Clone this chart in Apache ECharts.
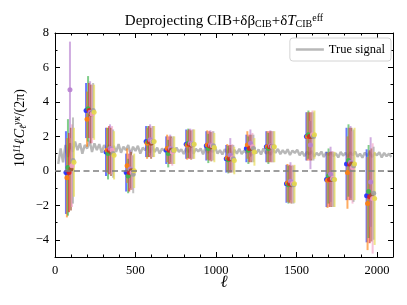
<!DOCTYPE html>
<html><head><meta charset="utf-8">
<script src="https://cdn.jsdelivr.net/npm/echarts@6/dist/echarts.min.js"></script>
<style>html,body{margin:0;padding:0;background:#fff}#c{width:407px;height:305px}</style>
</head><body><div id="c"></div>
<script>
// ---- data ----
const binCenters = [93, 218, 342, 467, 591, 716, 840, 965, 1089, 1214, 1338, 1463, 1587, 1712, 1836, 1961];
const seriesNames = ['s1','s2','s3','s4','s5','s6','s7','s8','s9'];
const seriesOffsets = [-25, -19, -12.5, -6, 0, 6, 12.5, 19, 25];
const seriesColors = ['#1f2bff', '#ff7f0e', '#3cb44b', '#e02020', '#b77fd0', '#a0522d', '#f2a0c8', '#a0a0a0', '#e6d84a'];

const vBlue   = [-0.1, 3.5, 1.1, -0.1, 1.7, 1.2, 1.55, 1.45, 0.7, 1.3, 1.4, -0.75, 2.0, -0.5, 0.4, -1.45];
const vOrange = [-0.4, 3.0, 1.2, 0.3, 1.6, 1.3, 1.5, 1.5, 0.75, 1.5, 1.4, -0.7, 2.0, -0.55, -0.1, -1.9];
const vGreen  = [0.2, 3.6, 1.0, -0.3, 1.7, 1.0, 1.6, 1.3, 0.65, 1.2, 1.3, -0.8, 2.1, -0.3, 0.6, -1.2];
const vRed    = [-0.1, 3.5, 1.2, -0.1, 1.7, 1.2, 1.55, 1.45, 0.7, 1.3, 1.4, -0.75, 2.0, -0.5, 0.4, -1.5];
const vPurple = [4.7, 3.4, 1.3, 0.1, 1.8, 1.3, 1.6, 1.5, 0.9, 1.6, 1.45, -0.6, 1.5, -0.2, 0.5, -0.65];
const vBrown  = [0.1, 3.3, 1.1, 0.0, 1.6, 1.2, 1.5, 1.4, 0.7, 1.3, 1.4, -0.8, 2.0, -0.5, 0.4, -1.4];
const vPink   = [0.3, 3.3, 1.2, -0.1, 1.7, 1.1, 1.55, 1.45, 0.75, 1.4, 1.4, -0.75, 2.1, -0.45, 0.2, -1.6];
const vGray   = [0.6, 3.5, 1.0, -0.2, 1.7, 1.2, 1.55, 1.45, 0.7, 1.3, 1.4, -0.8, 2.0, -0.5, 0.3, -1.3];
const vOlive  = [0.5, 3.4, 0.9, 0.0, 1.7, 1.2, 1.55, 1.35, 0.6, 1.1, 1.4, -0.75, 2.1, -0.5, 0.4, -1.6];

const eBlue   = [2.4, 1.6, 1.4, 1.1, 0.9, 0.8, 0.85, 0.85, 0.8, 0.8, 0.9, 1.1, 1.4, 1.6, 2.1, 2.7];
const eOrange = [2.3, 1.6, 1.3, 1.0, 0.9, 0.8, 0.85, 0.85, 0.8, 0.8, 0.9, 1.1, 1.4, 1.6, 2.1, 2.7];
const eGreen  = [2.8, 1.9, 1.5, 1.0, 0.9, 0.8, 0.85, 0.85, 0.8, 0.8, 0.9, 1.1, 1.4, 1.6, 2.1, 2.7];
const eRed    = [2.3, 1.6, 1.4, 1.1, 0.9, 0.8, 0.85, 0.85, 0.8, 0.8, 0.9, 1.1, 1.4, 1.6, 2.1, 2.7];
const ePurple = [2.8, 1.8, 1.4, 1.1, 0.9, 0.8, 0.85, 0.85, 1.0, 0.8, 0.9, 1.1, 1.4, 1.6, 2.1, 2.6];
const eBrown  = [2.4, 1.7, 1.4, 1.1, 0.9, 0.8, 0.85, 0.85, 0.8, 0.8, 0.9, 1.1, 1.4, 1.6, 2.1, 2.7];
const ePink   = [2.4, 1.7, 1.4, 1.0, 0.9, 0.8, 0.85, 0.85, 0.8, 0.8, 0.9, 1.1, 1.4, 1.6, 2.1, 3.2];
const eGray   = [2.5, 1.6, 1.4, 1.1, 0.9, 0.8, 0.85, 0.85, 0.8, 0.8, 0.9, 1.1, 1.4, 1.6, 2.1, 2.7];
const eOlive  = [2.0, 1.6, 1.4, 1.0, 0.9, 0.8, 0.85, 0.85, 0.8, 0.8, 0.9, 1.1, 1.4, 1.6, 2.1, 2.7];

const trueStart = 20, trueStep = 15;
const trueSignal = [
 0.4, 1.3, 0.5, 1.5, 0.8, 1.6,
 1.1, 1.7, 1.2, 1.6, 1.0, 1.5, 1.3, 1.75, 1.1, 1.6, 1.2, 1.55, 1.05, 1.5,
 1.25, 1.5, 1.0, 1.45, 1.1, 1.55, 1.05, 1.4, 1.2, 1.5, 0.95, 1.4, 1.15, 1.45, 1.0, 1.35, 1.2, 1.5, 1.05, 1.4,
 1.1, 1.35, 1.0, 1.3, 1.15, 1.4, 0.95, 1.3, 1.05, 1.35, 1.1, 1.25, 0.98, 1.32, 1.08, 1.38, 1.0, 1.28, 1.12, 1.3, 0.96, 1.34, 1.05, 1.25, 1.1, 1.36, 1.0,
 1.2, 0.95, 1.25, 1.05, 1.3, 0.92, 1.22, 1.0, 1.28, 0.98, 1.18, 1.05, 1.26, 0.9, 1.2, 1.02, 1.24, 0.95, 1.3, 1.0, 1.15, 0.93, 1.22, 1.05, 1.27, 0.97, 1.2, 1.0, 1.25, 0.92, 1.18, 1.04, 1.22,
 0.9, 1.12, 0.85, 1.1, 0.95, 1.15, 0.82, 1.05, 0.9, 1.12, 0.8, 1.08, 0.92, 1.1, 0.85, 1.02, 0.78, 1.1, 0.88, 1.05, 0.8, 1.08, 0.9, 1.12, 0.82, 1.0, 0.76, 1.06, 0.86, 1.1, 0.8, 1.02, 0.9, 1.08, 0.78, 1.04, 0.85, 1.0, 0.8
];
const xTicks = [0, 500, 1000, 1500, 2000];
const yTicks = [-4, -2, 0, 2, 4, 6, 8];

const allValues = [vBlue, vOrange, vGreen, vRed, vPurple, vBrown, vPink, vGray, vOlive];
const allErrors = [eBlue, eOrange, eGreen, eRed, ePurple, eBrown, ePink, eGray, eOlive];

// ---- chart ----
const FONT = '"Liberation Serif", "DejaVu Serif", serif';
const chart = echarts.init(document.getElementById('c'), null, {renderer: 'canvas'});

const series = [];
series.push({
  name: 'True signal', type: 'line', xAxisIndex: 0, yAxisIndex: 0,
  data: trueSignal.map((v, i) => [trueStart + i * trueStep, v]),
  showSymbol: false, symbol: 'none', silent: true, z: 1,
  lineStyle: {color: '#b8b8b8', width: 2.4},
  itemStyle: {color: '#b8b8b8'},
  markLine: {
    symbol: 'none', silent: true, label: {show: false},
    lineStyle: {color: '#7f7f7f', width: 1.6, type: [6, 3.5]},
    data: [{yAxis: 0}]
  }
});

allValues.forEach((vals, s) => {
  const color = seriesColors[s];
  const data = vals.map((v, i) => [binCenters[i] + seriesOffsets[s], v, allErrors[s][i]]);
  series.push({
    name: seriesNames[s], type: 'custom', xAxisIndex: 0, yAxisIndex: 0, z: 3,
    silent: true,
    encode: {x: 0, y: 1},
    data: data,
    renderItem: function (params, api) {
      const x = api.value(0), y = api.value(1), e = api.value(2);
      const p1 = api.coord([x, y + e]);
      const p2 = api.coord([x, y - e]);
      return {type: 'line', shape: {x1: p1[0], y1: p1[1], x2: p2[0], y2: p2[1]},
        style: {stroke: color, lineWidth: 2, opacity: 0.65}};
    }
  });
  series.push({
    name: seriesNames[s] + 'pt', type: 'scatter', xAxisIndex: 0, yAxisIndex: 0, z: 4,
    silent: true, symbolSize: 5,
    data: data.map(d => [d[0], d[1]]),
    itemStyle: {color: color, opacity: 0.9}
  });
});

const baseX = {
  type: 'value', min: 0, max: 2100, interval: 500,
  axisLine: {show: true, onZero: false, lineStyle: {color: '#000', width: 1}},
  axisTick: {show: true, inside: true, length: 5, lineStyle: {color: '#000'}},
  minorTick: {show: true, splitNumber: 5, length: 2.5, lineStyle: {color: '#000'}},
  splitLine: {show: false}, minorSplitLine: {show: false}
};
const baseYMinor = {
  type: 'value', min: -5, max: 8, interval: 1,
  axisLine: {show: true, onZero: false, lineStyle: {color: '#000', width: 1}},
  axisTick: {show: true, inside: true, length: 2.5, lineStyle: {color: '#000'}},
  axisLabel: {show: false}, splitLine: {show: false}
};
const baseYMajor = {
  type: 'value', min: -5, max: 8,
  axisLine: {show: false, onZero: false},
  axisTick: {show: true, inside: true, length: 5, customValues: yTicks, lineStyle: {color: '#000'}},
  splitLine: {show: false}
};

chart.setOption({
  animation: false,
  backgroundColor: '#fff',
  grid: {left: 55, right: 14, top: 33, bottom: 48, containLabel: false},
  xAxis: [
    Object.assign({}, baseX, {position: 'bottom',
      axisLabel: {show: true, color: '#000', fontFamily: FONT, fontSize: 12.5, margin: 7, customValues: xTicks,
        formatter: v => String(v)}}),
    Object.assign({}, baseX, {position: 'top', axisLabel: {show: false}})
  ],
  yAxis: [
    Object.assign({}, baseYMinor, {position: 'left'}),
    Object.assign({}, baseYMajor, {position: 'left',
      axisLabel: {show: true, color: '#000', fontFamily: FONT, fontSize: 12.5, margin: 6, customValues: yTicks,
        formatter: v => (v < 0 ? '\u2212' + Math.abs(v) : String(v))}}),
    Object.assign({}, baseYMinor, {position: 'right'}),
    Object.assign({}, baseYMajor, {position: 'right', axisLabel: {show: false}})
  ],
  legend: {
    data: ['True signal'], right: 16, top: 38, orient: 'vertical',
    icon: 'rect', itemWidth: 28, itemHeight: 2.5, itemGap: 4,
    textStyle: {fontFamily: FONT, fontSize: 12.5, color: '#000'},
    backgroundColor: '#fff', borderColor: '#d4d4d4', borderWidth: 1, borderRadius: 3,
    padding: [5, 6, 5, 6]
  },
  graphic: [
    {type: 'text', x: 224, y: 21, z: 10,
      style: {text: 'Deprojecting CIB+δβ{sub|CIB}+δ{it|T}{sub|CIB}{sup|eff}',
        align: 'center', verticalAlign: 'middle',
        font: '15px ' + FONT, fill: '#000',
        rich: {
          sub: {fontFamily: FONT, fontSize: 10, verticalAlign: 'bottom', padding: [6, 0, 0, 0]},
          sup: {fontFamily: FONT, fontSize: 10, verticalAlign: 'top', padding: [0, 0, 6, 0]},
          it: {fontFamily: FONT, fontSize: 15, fontStyle: 'italic'}
        }}},
    {type: 'text', x: 20, y: 128, rotation: Math.PI / 2, z: 10,
      style: {text: '10{sup|11}{it|ℓC}{sub|ℓ}{sup|yκ}/(2π)',
        align: 'center', verticalAlign: 'middle',
        font: '14px ' + FONT, fill: '#000',
        rich: {
          sub: {fontFamily: FONT, fontSize: 9.5, fontStyle: 'italic', verticalAlign: 'bottom', padding: [6, 0, 0, 0]},
          sup: {fontFamily: FONT, fontSize: 9.5, fontStyle: 'italic', verticalAlign: 'top', padding: [0, 0, 6, 0]},
          it: {fontFamily: FONT, fontSize: 14, fontStyle: 'italic'}
        }}},
    {type: 'text', x: 224, y: 283, z: 10,
      style: {text: 'ℓ', align: 'center', verticalAlign: 'middle',
        font: 'italic 17px ' + FONT, fill: '#000'}}
  ],
  series: series
});
</script>
</body></html>
